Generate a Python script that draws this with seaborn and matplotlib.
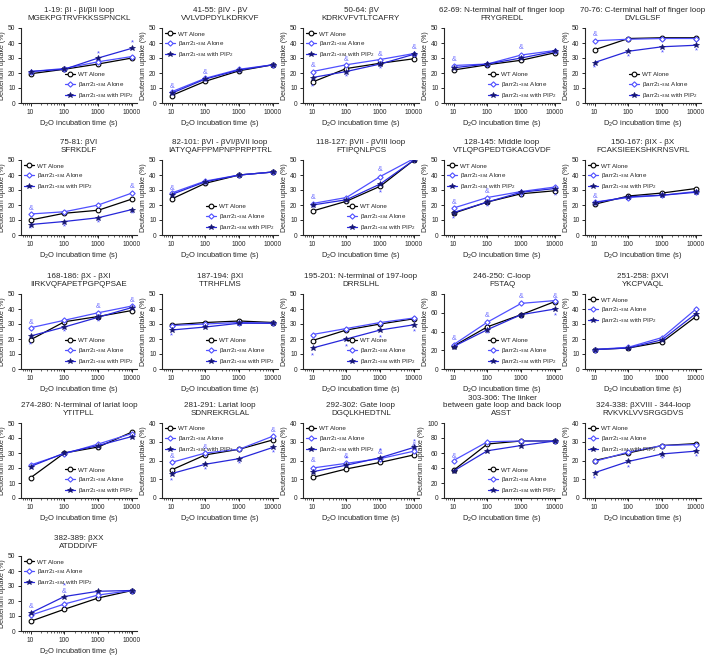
import numpy as np
import pandas as pd
import matplotlib
matplotlib.use("Agg")
import matplotlib.pyplot as plt
import seaborn as sns

sns.set_style("ticks")
plt.rcParams['font.family'] = ['Liberation Sans', 'DejaVu Sans']
plt.rcParams['mathtext.fontset'] = 'custom'
plt.rcParams['mathtext.rm'] = 'Liberation Sans'
plt.rcParams['mathtext.it'] = 'Liberation Sans'

times = [10, 100, 1000, 10000]

titles = [
    "1-19: βI - βI/βII loop\nMGEKPGTRVFKKSSPNCKL",
    "41-55: βIV - βV\nVVLVDPDYLKDRKVF",
    "50-64: βV\nKDRKVFVTLTCAFRY",
    "62-69: N-terminal half of finger loop\nFRYGREDL",
    "70-76: C-terminal half of finger loop\nDVLGLSF",
    "75-81: βVI\nSFRKDLF",
    "82-101: βVI - βVI/βVII loop\nIATYQAFPPMPNPPRPPTRL",
    "118-127: βVII - βVIII loop\nFTIPQNLPCS",
    "128-145: Middle loop\nVTLQPGPEDTGKACGVDF",
    "150-167: βIX - βX\nFCAKSIEEKSHKRNSVRL",
    "168-186: βX - βXI\nIIRKVQFAPETPGPQPSAE",
    "187-194: βXI\nTTRHFLMS",
    "195-201: N-terminal of 197-loop\nDRRSLHL",
    "246-250: C-loop\nFSTAQ",
    "251-258: βXVI\nYKCPVAQL",
    "274-280: N-terminal of lariat loop\nYTITPLL",
    "281-291: Lariat loop\nSDNREKRGLAL",
    "292-302: Gate loop\nDGQLKHEDTNL",
    "303-306: The linker\nbetween gate loop and back loop\nASST",
    "324-338: βXVIII - 344-loop\nRVKVKLVVSRGGDVS",
    "382-389: βXX\nATDDDIVF",
]

wt_alone = [
    [19.5, 22.5, 26, 30], [5, 14.5, 21.5, 25.5], [14, 23, 26.5, 29.5], [22, 25.5, 28.5, 33.5],
    [35.5, 43, 43.5, 43.5], [10, 14.5, 16.5, 24], [24, 34.5, 40, 42], [16, 22.5, 32.5, 50],
    [14.5, 22, 27.5, 29.5], [20.5, 26, 28, 31], [19.5, 31.5, 35, 39], [29.5, 31, 32, 31],
    [19, 26, 30, 33.5], [24.5, 45, 58, 72], [13, 14, 18, 35], [13.5, 30, 34, 44],
    [15, 23, 26, 31], [11, 15.5, 19, 23], [37, 72, 76, 76], [20, 24, 28, 29],
    [6.5, 14.5, 22, 27],
]
arr_alone = [
    [21, 23, 27.5, 31], [7.5, 16.5, 22.5, 25.5], [21, 25.5, 29, 33], [25, 26, 32, 35],
    [41.5, 42.5, 43, 43], [14, 15.5, 20, 28], [28, 36, 40, 42], [21, 25, 39, 51],
    [18, 25, 29, 32], [22, 25, 26.5, 29], [27.5, 32.5, 37.5, 42], [29, 30, 31, 30.5],
    [23, 27, 31, 34], [26, 50, 70, 73], [13, 14.5, 21, 40], [22, 29.5, 36, 43],
    [19, 24, 26, 33], [16, 18.5, 21, 25], [50, 75, 76, 76], [19.5, 24.5, 28, 28.5],
    [10.5, 18, 24, 27],
]
arr_pip2 = [
    [21, 22.5, 30, 36.5], [6.5, 16, 22, 25.5], [17, 21, 26, 32.5], [23.5, 26, 30, 34.5],
    [27, 34.5, 37.5, 38.5], [7, 9, 11.5, 17], [27, 35.5, 40, 42], [20, 23.5, 34, 50],
    [15, 22, 28.5, 31], [21.5, 25.5, 26.5, 28.5], [22, 28, 34.5, 41], [26, 28, 30.5, 30.5],
    [14, 20, 26, 29.5], [24, 42, 58, 64], [13, 14, 19.5, 37], [21, 30, 35, 41],
    [13, 18, 21, 27], [14, 17.5, 21.5, 27], [36, 63, 70, 76], [13.5, 19.5, 23.5, 25],
    [12, 23, 26.5, 27],
]
y_max = [50, 50, 50, 50, 50, 50, 50, 50, 50, 50, 50, 50, 50, 80, 50, 50, 40, 40, 100, 40, 50]
y_step = [10, 10, 10, 10, 10, 10, 10, 10, 10, 10, 10, 10, 10, 20, 10, 10, 10, 10, 20, 10, 10]
legend_loc = ["lower right", "upper left", "upper left", "lower right", "lower right",
              "upper left", "lower right", "lower right", "upper left", "upper left",
              "lower right", "lower right", "lower right", "lower right", "upper left",
              "lower right", "upper left", "upper left", "lower right", "upper left", "upper left"]
# significance marks: (time, uptake level)
amp_marks = [
    [], [(10, 11), (100, 20)], [(10, 25), (100, 29), (1000, 32), (10000, 37)], [(10, 29), (1000, 37)],
    [(10, 45.5)], [(10, 17.5), (10000, 32)], [(10, 31)], [(10, 25), (1000, 43.5)],
    [(10, 21.5), (100, 29)], [(10, 26)], [(10, 31), (1000, 42), (10000, 45.5)], [],
    [], [(10, 33), (100, 57), (1000, 77), (10000, 77)], [], [],
    [(10, 22), (100, 27), (10000, 36)], [(10, 20), (100, 22), (1000, 24.5), (10000, 28)], [(10, 56)], [],
    [(10, 16), (100, 26.5)],
]
star_marks = [
    [(1000, 33), (10000, 40)], [], [(10, 11), (100, 17.5), (1000, 23), (10000, 31)], [],
    [(10, 23.5), (100, 30.5), (1000, 33.5), (10000, 35)], [(10, 4), (100, 5.5), (1000, 8), (10000, 14)],
    [], [(1000, 28)], [(10, 10.5), (100, 18.5), (1000, 24.5), (10000, 26)], [],
    [(10, 16), (100, 24.5), (1000, 31.5)], [(10, 22)], [(10, 9), (100, 15), (1000, 21), (10000, 25)],
    [(100, 37), (1000, 53), (10000, 57)], [], [],
    [(10, 9), (100, 15), (1000, 18), (10000, 24)], [(100, 21), (1000, 25), (10000, 30)], [],
    [(10, 10), (100, 16), (1000, 21), (10000, 22)], [(100, 30)],
]

labels = ["WT Alone", r"βarr2$_{1\mathrm{-}384}$ Alone", r"βarr2$_{1\mathrm{-}384}$ with PIP$_2$"]
c_alone = "#5050ff"
c_pip = "#2626d9"
c_pip_m = "#151570"

W, H = 705, 660
fig = plt.figure(figsize=(W / 100, H / 100), dpi=100)
row_tops = [28, 160, 294, 423, 556]
ax_w, ax_h = 116, 75

for i in range(len(titles)):
    r, c = divmod(i, 5)
    left = (21 + 141 * c) / W
    bottom = 1 - (row_tops[r] + ax_h) / H
    ax = fig.add_axes([left, bottom, ax_w / W, ax_h / H])
    df = pd.DataFrame({"time": times * 3,
                       "uptake": wt_alone[i] + arr_alone[i] + arr_pip2[i],
                       "group": [labels[0]] * 4 + [labels[1]] * 4 + [labels[2]] * 4})
    sns.lineplot(data=df[df.group == labels[0]], x="time", y="uptake", ax=ax, color="black",
                 marker="o", markersize=3.4, markerfacecolor="white", markeredgecolor="black",
                 markeredgewidth=0.8, linewidth=0.9, label=labels[0], zorder=3)
    sns.lineplot(data=df[df.group == labels[1]], x="time", y="uptake", ax=ax, color=c_alone,
                 marker="D", markersize=2.7, markerfacecolor="white", markeredgecolor=c_alone,
                 markeredgewidth=0.8, linewidth=0.9, label=labels[1], zorder=4)
    sns.lineplot(data=df[df.group == labels[2]], x="time", y="uptake", ax=ax, color=c_pip,
                 marker="*", markersize=4.2, markerfacecolor=c_pip_m, markeredgecolor=c_pip_m,
                 markeredgewidth=0.5, linewidth=0.9, label=labels[2], zorder=5)
    for (t, y) in amp_marks[i]:
        ax.text(t, y, "&", color="#6f6fff", fontsize=5, ha="center", va="center")
    for (t, y) in star_marks[i]:
        ax.text(t, y, "*", color="#4646ff", fontsize=5.5, ha="center", va="center")
    ax.set_xscale("log")
    ax.set_xlim(5.2, 14000)
    ax.set_ylim(0, y_max[i])
    ax.set_xticks(times)
    ax.set_xticklabels([str(t) for t in times])
    ax.set_yticks(np.arange(0, y_max[i] + 1, y_step[i]))
    ax.tick_params(axis="both", labelsize=4.8, length=2.5, width=0.7, pad=1.5)
    ax.tick_params(axis="x", which="minor", length=1.5, width=0.5)
    sns.despine(ax=ax)
    for s in ["left", "bottom"]:
        ax.spines[s].set_linewidth(0.8)
    ax.set_xlabel(r"D$_2$O incubation time (s)", fontsize=5.4, labelpad=2)
    ax.set_ylabel("Deuterium uptake (%)", fontsize=5.0, labelpad=1.5)
    ax.set_title(titles[i], fontsize=5.8, pad=6, linespacing=1.1)
    ax.legend(loc=legend_loc[i], frameon=False, fontsize=4.5, handlelength=1.5,
              handletextpad=0.5, labelspacing=0.35, borderaxespad=0.1)

fig.savefig("out.png", dpi=100)
